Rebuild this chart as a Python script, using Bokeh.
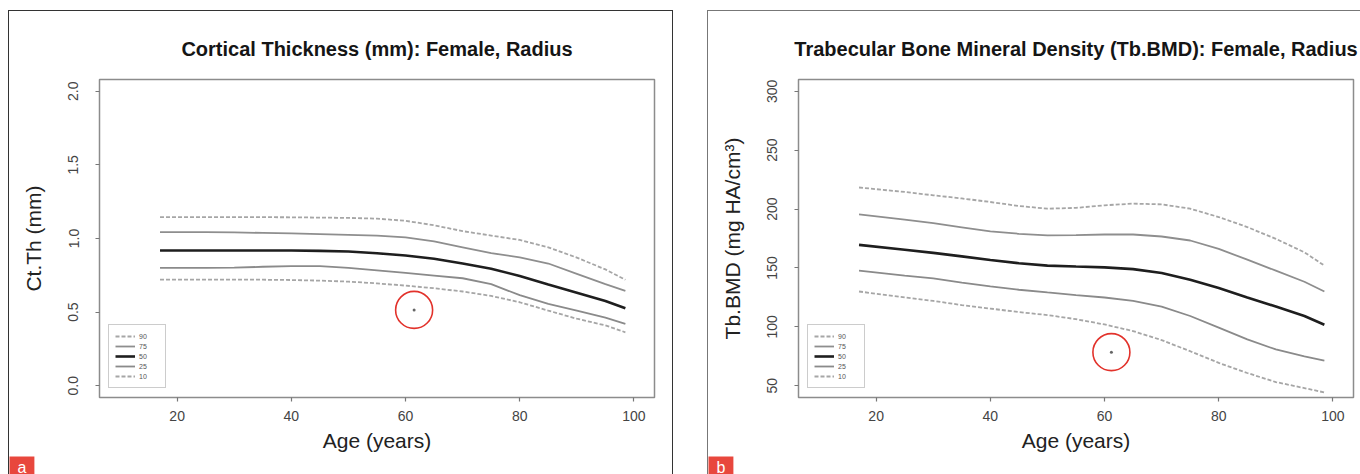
from bokeh.plotting import figure
from bokeh.models import FixedTicker, PrintfTickFormatter, Range1d, Legend, LegendItem, Title
from bokeh.layouts import row
from bokeh.embed import file_html
from bokeh.resources import INLINE

# ---------------- data ----------------
ages = [17, 25, 30, 35, 40, 45, 50, 55, 60, 65, 70, 75, 80, 85, 90, 95, 98.5]
percentiles = ["90", "75", "50", "25", "10"]

ctth_p90 = [1.145, 1.145, 1.145, 1.145, 1.144, 1.142, 1.14, 1.135, 1.12, 1.09, 1.05, 1.02, 0.99, 0.94, 0.87, 0.79, 0.72]
ctth_p75 = [1.043, 1.043, 1.041, 1.038, 1.035, 1.03, 1.025, 1.02, 1.008, 0.98, 0.94, 0.90, 0.872, 0.83, 0.76, 0.69, 0.644]
ctth_p50 = [0.918, 0.918, 0.918, 0.918, 0.918, 0.916, 0.912, 0.90, 0.884, 0.862, 0.83, 0.795, 0.745, 0.688, 0.632, 0.576, 0.526]
ctth_p25 = [0.80, 0.80, 0.802, 0.808, 0.813, 0.812, 0.80, 0.783, 0.766, 0.748, 0.73, 0.69, 0.615, 0.556, 0.51, 0.462, 0.42]
ctth_p10 = [0.72, 0.72, 0.72, 0.72, 0.718, 0.714, 0.707, 0.695, 0.68, 0.662, 0.64, 0.61, 0.567, 0.51, 0.455, 0.41, 0.363]

tbbmd_p90 = [218.3, 214.5, 211.7, 209, 206, 202.6, 200.3, 201, 203.2, 204.6, 204, 200.3, 193.2, 184.7, 174.7, 163.3, 152]
tbbmd_p75 = [195.5, 191, 188, 184.5, 181, 179, 177.6, 177.8, 178.4, 178.4, 176.7, 173.3, 166.2, 157, 147.7, 138.3, 130]
tbbmd_p50 = [169.6, 165.5, 162.8, 159.8, 156.8, 154, 152, 151.2, 150.5, 149, 145.7, 140, 132.9, 124.9, 117.2, 109.2, 101.8]
tbbmd_p25 = [147.7, 143.5, 141.1, 137.5, 134.3, 131.5, 129.2, 127, 124.9, 122, 117.2, 109.2, 99.3, 89.3, 80.8, 75, 71.4]
tbbmd_p10 = [130, 125, 122, 118.5, 115.5, 112.5, 110, 106.5, 102, 96.4, 88.7, 79.3, 69.4, 60.8, 53.1, 48, 44.3]

x_ticks = [20, 40, 60, 80, 100]
ctth_ticks = [0.0, 0.5, 1.0, 1.5, 2.0]
tbbmd_ticks = [50, 100, 150, 200, 250, 300]

marked_a = (61.5, 0.515)
marked_b = (61.2, 78.5)

titles = ["Cortical Thickness (mm): Female, Radius",
          "Trabecular Bone Mineral Density (Tb.BMD): Female, Radius"]
ylabels = ["Ct.Th (mm)", "Tb.BMD (mg HA/cm\u00b3)"]
panel_tags = ["a", "b"]

# ---------------- styling ----------------
FONT = "Liberation Sans"
line_styles = {
    "90": dict(line_color="#a6a6a6", line_width=1.8, line_dash="4 2"),
    "75": dict(line_color="#8e8e8e", line_width=1.8, line_dash="solid"),
    "50": dict(line_color="#1e1e1e", line_width=2.6, line_dash="solid"),
    "25": dict(line_color="#8a8a8a", line_width=1.8, line_dash="solid"),
    "10": dict(line_color="#a6a6a6", line_width=1.8, line_dash="4 2"),
}

FIG_H = 464
B_LEFT, B_TOP, B_BOTTOM = 90, 68, 78


def make_panel(title, ylabel, series, yticks, yfmt, y_lo, y_hi, width, min_right, css, tag, marked, margin):
    xpad = (100 - 10) * 0.04
    ypad = (y_hi - y_lo) * 0.04
    p = figure(width=width, height=FIG_H, output_backend="svg", toolbar_location=None,
               x_range=Range1d(10 - xpad, 100 + xpad), y_range=Range1d(y_lo - ypad, y_hi + ypad),
               min_border_left=B_LEFT, min_border_right=min_right,
               min_border_top=B_TOP, min_border_bottom=B_BOTTOM)
    p.margin = margin
    p.styles = css
    p.background_fill_color = "white"
    p.border_fill_color = "white"
    p.grid.visible = False
    p.outline_line_color = "#8c8c8c"
    p.outline_line_width = 1.5

    p.title.text = title
    p.title.align = "center"
    p.title.text_font = FONT
    p.title.text_font_size = "20px"
    p.title.text_font_style = "bold"
    p.title.text_color = "#151515"
    p.title.standoff = 39

    for ax in (p.xaxis[0], p.yaxis[0]):
        ax.axis_line_color = None
        ax.major_tick_out = 4
        ax.major_tick_in = 0
        ax.major_tick_line_color = "#777777"
        ax.major_tick_line_width = 1.2
        ax.minor_tick_line_color = None
        ax.major_label_text_font = FONT
        ax.major_label_text_font_size = "14px"
        ax.major_label_text_color = "#444444"
        ax.axis_label_text_font = FONT
        ax.axis_label_text_font_size = "21px"
        ax.axis_label_text_font_style = "normal"
        ax.axis_label_text_color = "#222222"

    p.xaxis.ticker = FixedTicker(ticks=x_ticks)
    p.xaxis.axis_label = "Age (years)"
    p.xaxis.major_label_standoff = 9
    p.xaxis.axis_label_standoff = 5

    p.yaxis.ticker = FixedTicker(ticks=yticks)
    p.yaxis.formatter = PrintfTickFormatter(format=yfmt)
    p.yaxis.major_label_orientation = "vertical"
    p.yaxis.axis_label = ylabel
    p.yaxis.major_label_standoff = 17
    p.yaxis.axis_label_standoff = 21

    items = []
    for name, vals in zip(percentiles, series):
        r = p.line(ages, vals, **line_styles[name])
        items.append(LegendItem(label=name, renderers=[r]))

    p.scatter([marked[0]], [marked[1]], marker="circle", size=37, fill_color=None,
              line_color="#e2322b", line_width=1.6)
    p.scatter([marked[0]], [marked[1]], marker="circle", size=3, fill_color="#666666",
              line_color=None)

    legend = Legend(items=items, location="bottom_left", margin=9, padding=6, spacing=0,
                    glyph_width=20, glyph_height=10, label_height=10, label_standoff=4,
                    label_text_font=FONT, label_text_font_size="7px", label_text_color="#555555",
                    border_line_color="#999999", border_line_width=1.5,
                    background_fill_color="white", background_fill_alpha=1.0)
    p.add_layout(legend)

    # panel tag ("a"/"b"): a red tab at the bottom-left corner of the panel
    tag_title = Title(text=tag, align="left", offset=-B_LEFT, standoff=0,
                      text_font=FONT, text_font_size="16px", text_font_style="normal",
                      text_color="white", background_fill_color="#e8473d",
                      padding=dict(left=8, right=8, top=2, bottom=0))
    p.add_layout(tag_title, "below")
    return p


p1 = make_panel(titles[0], ylabels[0], [ctth_p90, ctth_p75, ctth_p50, ctth_p25, ctth_p10],
                ctth_ticks, "%.1f", 0.0, 2.0, 665, 20,
                {"border-left": "1px solid #333333", "border-top": "1px solid #333333",
                 "border-right": "1px solid #333333"},
                panel_tags[0], marked_a, (10, 0, 0, 8))
p2 = make_panel(titles[1], ylabels[1], [tbbmd_p90, tbbmd_p75, tbbmd_p50, tbbmd_p25, tbbmd_p10],
                tbbmd_ticks, "%d", 50, 300, 653, 8,
                {"border-left": "1px solid #777777", "border-top": "1px solid #777777"},
                panel_tags[1], marked_b, (10, 0, 0, 0))

layout = row(p1, p2, spacing=34)
open("out.html", "w").write(file_html(layout, INLINE))
